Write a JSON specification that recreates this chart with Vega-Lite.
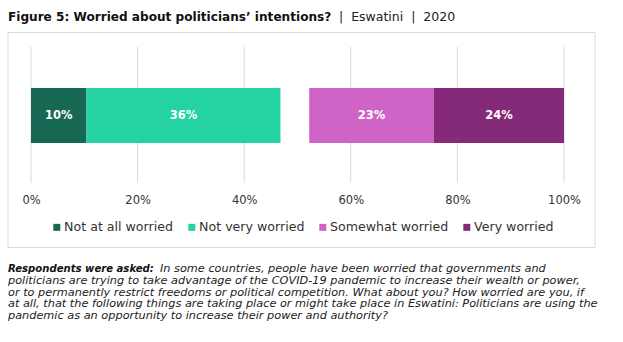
{
  "$schema": "https://vega.github.io/schema/vega-lite/v6.json",
  "width": 587,
  "height": 215,
  "autosize": {"type": "none"},
  "padding": {"left": 7.5, "top": 32, "right": 28.5, "bottom": 95},
  "background": "white",
  "config": {"font": "DejaVu Sans", "view": {"stroke": "#d9d9d9", "strokeWidth": 1}},
  "datasets": {
    "responses": [
      {"country": "Eswatini", "response": "Not at all worried", "value": 10.4, "order": 1},
      {"country": "Eswatini", "response": "Not very worried", "value": 36.4, "order": 2},
      {"country": "Eswatini", "response": "Don't know/Refused", "value": 5.4, "order": 3},
      {"country": "Eswatini", "response": "Somewhat worried", "value": 23.4, "order": 4},
      {"country": "Eswatini", "response": "Very worried", "value": 24.4, "order": 5}
    ],
    "grid": [{"pct": 0}, {"pct": 20}, {"pct": 40}, {"pct": 60}, {"pct": 80}, {"pct": 100}],
    "header": [
      {"part": "main", "text": "Figure 5: Worried about politicians’ intentions?"},
      {"part": "place", "text": "|\u00a0\u00a0Eswatini\u00a0\u00a0|\u00a0\u00a02020"}
    ],
    "footnote": [
      {"line": 1, "part": "lead", "text": "Respondents were asked:"},
      {"line": 1, "part": "rest", "text": "In some countries, people have been worried that governments and"},
      {"line": 2, "part": "body", "text": "politicians are trying to take advantage of the COVID-19 pandemic to increase their wealth or power,"},
      {"line": 3, "part": "body", "text": "or to permanently restrict freedoms or political competition. What about you? How worried are you, if"},
      {"line": 4, "part": "body", "text": "at all, that the following things are taking place or might take place in Eswatini: Politicians are using the"},
      {"line": 5, "part": "body", "text": "pandemic as an opportunity to increase their power and authority?"}
    ]
  },
  "layer": [
    {
      "data": {"name": "grid"},
      "mark": {"type": "rule", "color": "#d9d9d9", "strokeWidth": 1},
      "encoding": {
        "x": {
          "field": "pct", "type": "quantitative",
          "scale": {"domain": [-4.41, 105.72], "nice": false, "zero": false},
          "axis": {
            "values": [0, 20, 40, 60, 80, 100],
            "labelExpr": "datum.value + '%'",
            "title": null, "grid": false, "ticks": false, "domain": false,
            "offset": -64, "labelPadding": 11,
            "labelFontSize": 11.5, "labelColor": "#333333", "labelFont": "DejaVu Sans"
          }
        },
        "y": {"datum": 0, "type": "quantitative", "scale": {"domain": [-0.4706, 1.1103], "nice": false, "zero": false}, "axis": null},
        "y2": {"datum": 1}
      }
    },
    {
      "data": {"name": "responses"},
      "transform": [
        {"stack": "value", "groupby": ["country"], "sort": [{"field": "order", "order": "ascending"}], "as": ["x0", "x1"]},
        {"filter": "datum.order != 3"},
        {"calculate": "(datum.x0 + datum.x1) / 2", "as": "mid"},
        {"calculate": "format(datum.value, '.0f') + '%'", "as": "label"}
      ],
      "encoding": {
        "y": {"field": "country", "type": "nominal", "scale": {"paddingInner": 0.3125, "paddingOuter": 1, "align": 0.35}, "axis": null}
      },
      "layer": [
        {
          "mark": {"type": "bar"},
          "encoding": {
            "x": {"field": "x0", "type": "quantitative"},
            "x2": {"field": "x1"},
            "color": {
              "field": "response", "type": "nominal",
              "scale": {
                "domain": ["Not at all worried", "Not very worried", "Somewhat worried", "Very worried"],
                "range": ["#176853", "#25d3a2", "#cf63c6", "#852a79"]
              },
              "legend": {
                "orient": "none", "legendX": 43, "legendY": 189,
                "direction": "horizontal", "columns": 4, "title": null,
                "symbolType": "square", "symbolSize": 49, "symbolStrokeWidth": 0,
                "labelFontSize": 12.6, "labelColor": "#333333", "labelFont": "DejaVu Sans",
                "columnPadding": 12, "labelOffset": 1, "padding": 0
              }
            }
          }
        },
        {
          "mark": {"type": "text", "color": "white", "fontWeight": "bold", "fontSize": 11.5},
          "encoding": {
            "x": {"field": "mid", "type": "quantitative"},
            "text": {"field": "label"}
          }
        }
      ]
    },
    {
      "data": {"name": "header"},
      "encoding": {
        "x": {"datum": -4.32, "type": "quantitative"},
        "y": {"datum": 1, "type": "quantitative", "scale": {"domain": [0, 0.9513], "nice": false, "zero": false}, "axis": null},
        "text": {"field": "text"}
      },
      "layer": [
        {
          "transform": [{"filter": "datum.part == 'main'"}],
          "mark": {"type": "text", "align": "left", "baseline": "alphabetic", "fontSize": 12.1, "fontWeight": "bold", "color": "#111111"}
        },
        {
          "transform": [{"filter": "datum.part == 'place'"}],
          "mark": {"type": "text", "align": "left", "baseline": "alphabetic", "fontSize": 12.5, "color": "#222222", "dx": 331}
        }
      ]
    },
    {
      "data": {"name": "footnote"},
      "encoding": {
        "x": {"datum": -4.32, "type": "quantitative"},
        "y": {"field": "line", "type": "quantitative", "scale": {"domain": [-19.143, -1.076], "reverse": true, "nice": false, "zero": false}, "axis": null},
        "text": {"field": "text"}
      },
      "layer": [
        {
          "transform": [{"filter": "datum.part == 'lead'"}],
          "mark": {"type": "text", "align": "left", "baseline": "alphabetic", "fontSize": 10.1, "fontStyle": "italic", "fontWeight": "bold", "color": "#111111"}
        },
        {
          "transform": [{"filter": "datum.part == 'rest'"}],
          "mark": {"type": "text", "align": "left", "baseline": "alphabetic", "fontSize": 11.3, "fontStyle": "italic", "color": "#222222", "dx": 152}
        },
        {
          "transform": [{"filter": "datum.part == 'body'"}],
          "mark": {"type": "text", "align": "left", "baseline": "alphabetic", "fontSize": 11.3, "fontStyle": "italic", "color": "#222222"}
        }
      ]
    }
  ],
  "resolve": {"scale": {"y": "independent"}}
}
